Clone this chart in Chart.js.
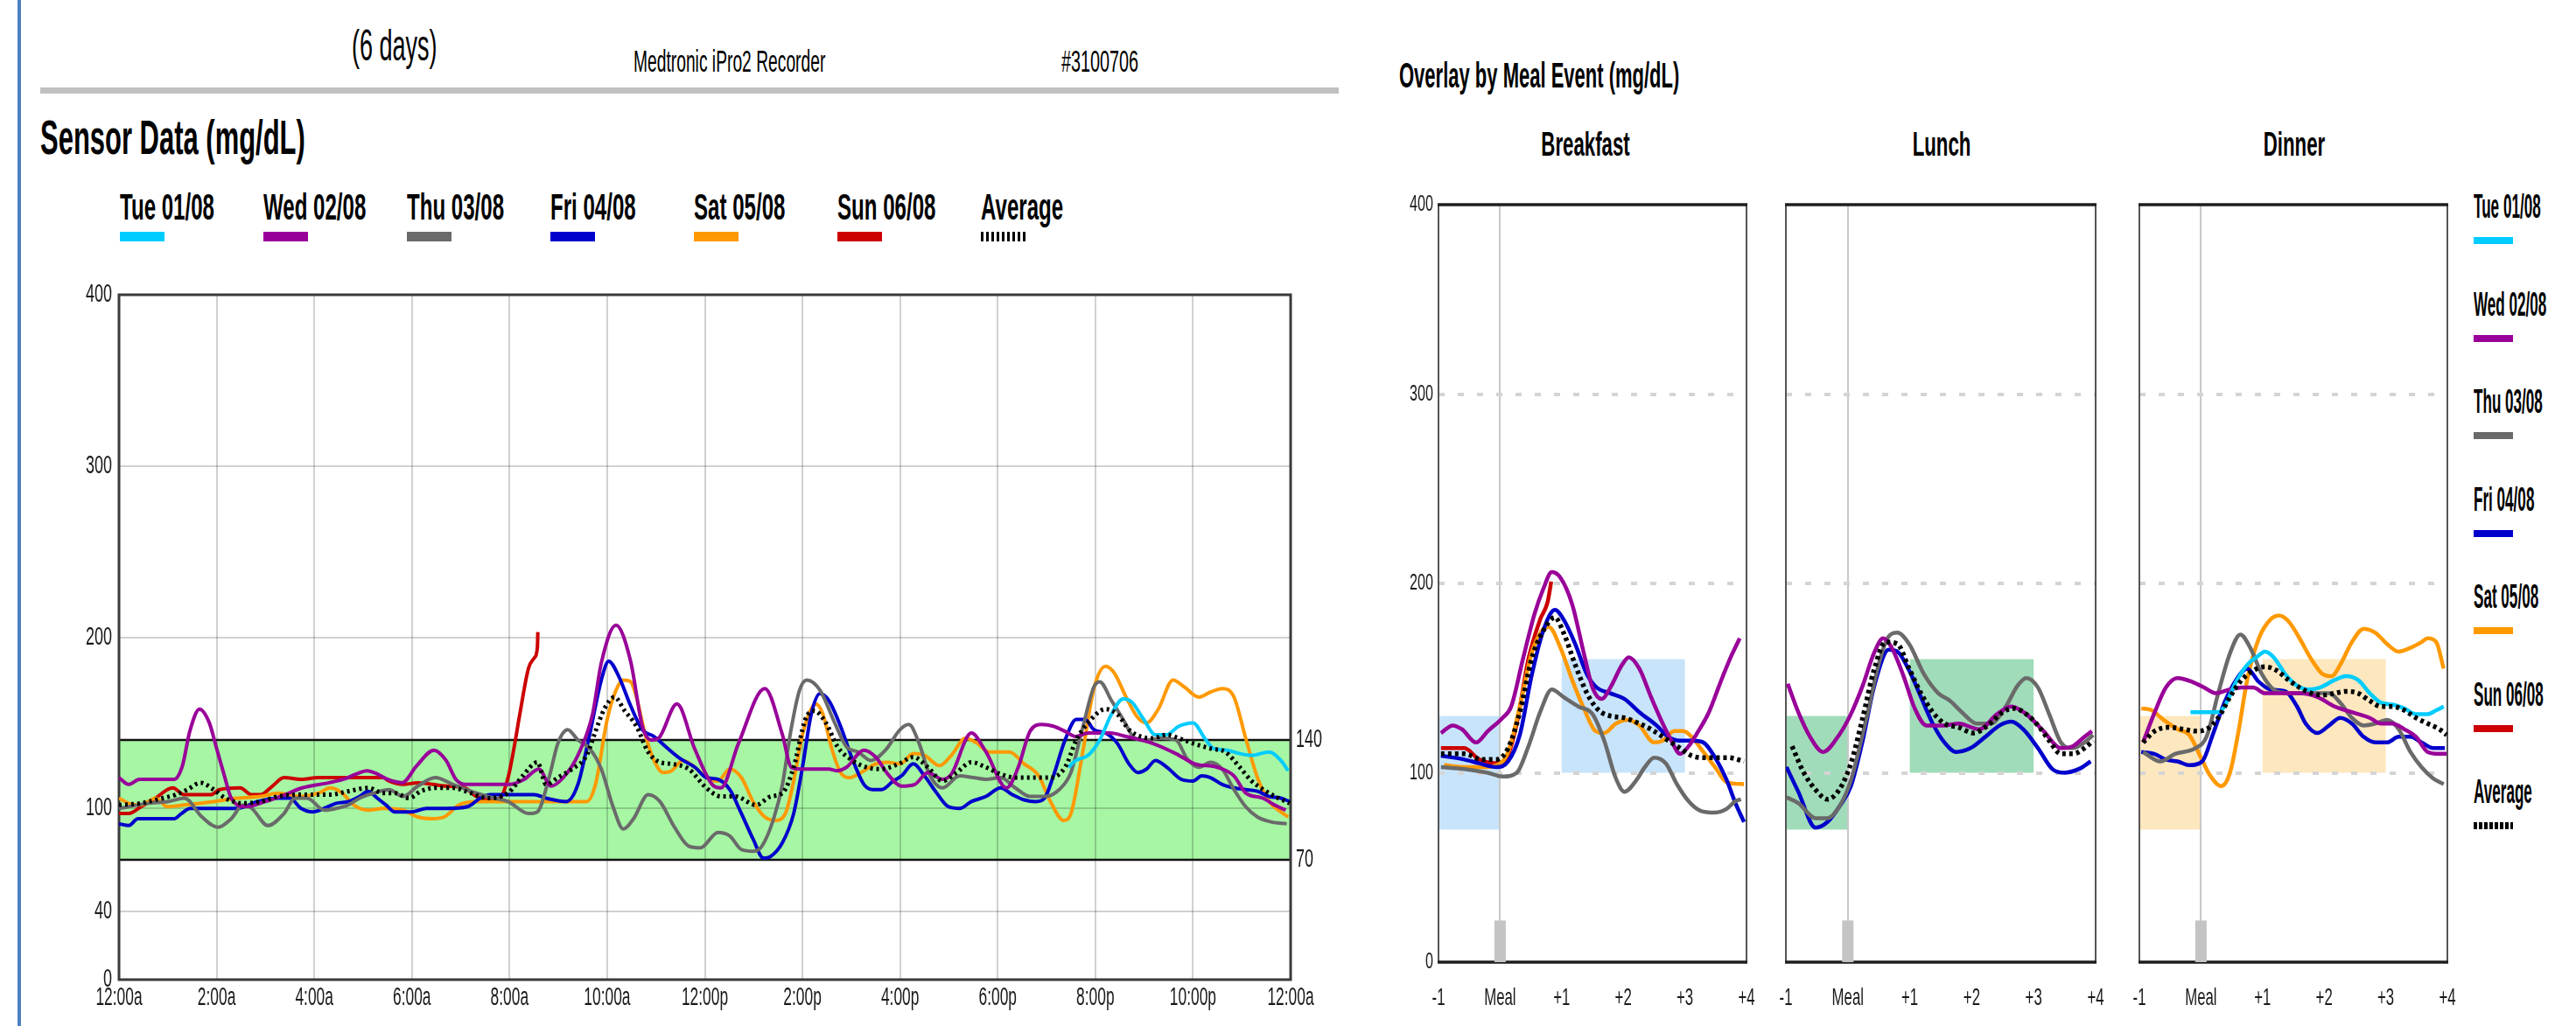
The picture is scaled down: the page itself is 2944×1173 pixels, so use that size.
<!DOCTYPE html>
<html>
<head>
<meta charset="utf-8">
<script src="https://cdn.jsdelivr.net/npm/chart.js@4.4.0/dist/chart.umd.min.js"></script>
<style>
  html, body { margin: 0; padding: 0; background: #fff; }
  body { width: 2944px; height: 1173px; position: relative; overflow: hidden;
         font-family: "Liberation Sans", Arial, sans-serif; color: #000; }
  .sq { position: absolute; white-space: nowrap; line-height: 1; transform-origin: left top; }
  .swatch { position: absolute; }
  canvas { position: absolute; }
</style>
</head>
<body>
<div style="position:absolute;left:20px;top:0;width:4px;height:1173px;background:#4f7fc0"></div>
<div class="sq" style="left:402px;top:27px;font-size:50px;transform:scaleX(0.54)">(6 days)</div>
<div class="sq" style="left:724px;top:52px;font-size:35px;transform:scaleX(0.55)">Medtronic iPro2 Recorder</div>
<div class="sq" style="left:1213px;top:52px;font-size:35px;transform:scaleX(0.565)">#3100706</div>
<div style="position:absolute;left:46px;top:100px;width:1484px;height:7px;background:#c0c0c0"></div>
<div class="sq" style="left:46px;top:129px;font-size:56px;font-weight:bold;transform:scaleX(0.553)">Sensor Data (mg/dL)</div>
<div class="sq" style="left:1599px;top:66px;font-size:40px;font-weight:bold;transform:scaleX(0.55)">Overlay by Meal Event (mg/dL)</div>
<div id="legendTop"></div>
<div id="legendSide"></div>
<div id="mealTitles"></div>

<canvas id="sensorChart" width="1490" height="856" style="left:56px;top:317px;width:1490px;height:856px"></canvas>
<canvas id="breakfastChart" width="416" height="973" style="left:1590px;top:200px;width:416px;height:973px"></canvas>
<canvas id="lunchChart" width="394" height="973" style="left:2011px;top:200px;width:394px;height:973px"></canvas>
<canvas id="dinnerChart" width="392" height="973" style="left:2415px;top:200px;width:392px;height:973px"></canvas>

<script>
// ---- legend / series meta ----
const dayLabels = ["Tue 01/08", "Wed 02/08", "Thu 03/08", "Fri 04/08", "Sat 05/08", "Sun 06/08", "Average"];
const dayColors = ["#00ccff", "#990099", "#6a6a6a", "#0000cc", "#ff9900", "#cc0000", "#000000"];

// ---- sensor data: [hour of day, mg/dL] ----
const tueDay = [[19.45,124],[19.6,128],[19.85,131],[20.09,140],[20.33,155],[20.57,164],[20.75,162],[20.99,152],[21.23,143],[21.45,143],[21.71,148],[22.0,150],[22.24,141],[22.42,135],[22.7,134],[22.96,132],[23.2,131],[23.56,133],[23.8,128],[23.95,122]];
const wedDay = [[0,118],[0.2,114],[0.42,117],[1.13,117],[1.3,125],[1.45,145],[1.65,158],[1.85,150],[2.0,135],[2.15,120],[2.3,106],[2.6,101],[3.0,104],[3.4,108],[3.75,112],[4.3,115],[4.6,117],[4.85,120],[5.08,122],[5.3,120],[5.5,117],[5.8,115],[6.1,125],[6.45,134],[6.7,128],[6.9,117],[7.1,114],[7.5,114],[8.0,114],[8.3,117],[8.6,123],[8.85,113],[9.1,118],[9.4,131],[9.7,155],[9.88,185],[10.18,207],[10.48,186],[10.72,148],[10.9,140],[11.05,141],[11.43,161],[11.79,135],[12.15,114],[12.33,112],[12.69,138],[13.23,170],[13.59,143],[13.77,124],[13.95,123],[14.54,123],[14.7,122],[14.9,124],[15.26,134],[15.5,130],[15.75,120],[16.03,113],[16.3,114],[16.57,121],[16.87,117],[17.05,120],[17.46,144],[17.76,133],[18.18,112],[18.42,124],[18.66,145],[18.9,149],[19.14,148],[19.38,145],[19.6,142],[19.85,144],[20.3,144],[20.63,142],[21.17,138],[21.65,132],[22.04,126],[22.5,124],[22.84,119],[23.08,109],[23.43,106],[23.67,102],[23.9,99]];
const thuDay = [[0,100],[0.6,103],[1.0,104],[1.34,106],[1.7,95],[2.03,89],[2.3,94],[2.54,102],[2.72,100],[3.05,90],[3.38,97],[3.61,106],[3.85,106],[4.21,99],[4.45,100],[4.69,102],[4.93,106],[5.23,109],[5.53,111],[5.82,107],[6.12,113],[6.48,118],[6.84,114],[7.32,109],[7.68,106],[7.97,104],[8.39,97],[8.57,98],[8.81,118],[8.99,138],[9.19,146],[9.4,140],[9.64,135],[9.88,123],[10.12,101],[10.33,88],[10.54,94],[10.84,108],[11.08,104],[11.38,89],[11.67,78],[11.91,77],[12.27,86],[12.51,84],[12.75,76],[12.99,75],[13.17,78],[13.41,94],[13.59,114],[13.76,145],[13.94,169],[14.09,175],[14.36,169],[14.66,150],[14.9,136],[15.14,133],[15.4,128],[15.7,134],[16.0,146],[16.18,149],[16.39,138],[16.6,120],[16.87,112],[17.22,119],[17.5,118],[17.76,117],[18.06,118],[18.36,112],[18.66,107],[18.96,107],[19.26,111],[19.5,121],[19.73,146],[19.97,171],[20.09,174],[20.33,163],[20.57,152],[20.81,141],[21.05,140],[21.35,141],[21.65,140],[21.88,129],[22.12,124],[22.36,127],[22.6,123],[22.84,111],[23.08,101],[23.32,95],[23.62,92],[23.92,91]];
const friDay = [[0,91],[0.2,90],[0.39,94],[1.13,94],[1.28,97],[1.46,100],[2.42,100],[2.84,104],[3.26,106],[3.5,106],[3.73,100],[3.97,98],[4.2,100],[4.45,103],[4.7,104],[4.93,107],[5.1,110],[5.29,106],[5.47,102],[5.65,98],[6.0,98],[6.3,100],[6.72,100],[7.14,101],[7.4,106],[7.61,108],[8.5,108],[8.75,106],[9.16,104],[9.4,114],[9.64,143],[9.88,175],[10.03,186],[10.24,177],[10.48,160],[10.72,146],[10.96,142],[11.2,136],[11.5,129],[11.8,124],[12.03,118],[12.27,117],[12.51,111],[12.75,97],[12.99,82],[13.2,71],[13.35,72],[13.59,80],[13.82,97],[14.0,124],[14.18,155],[14.36,167],[14.54,163],[14.78,148],[15.02,129],[15.26,114],[15.44,111],[15.62,111],[15.86,116],[16.03,119],[16.27,126],[16.5,119],[16.75,109],[16.99,101],[17.22,100],[17.46,104],[17.76,107],[18.06,112],[18.3,108],[18.54,105],[18.78,104],[18.96,106],[19.14,119],[19.38,140],[19.61,152],[19.79,152],[19.97,146],[20.21,144],[20.45,138],[20.69,126],[20.87,121],[21.05,123],[21.23,128],[21.47,124],[21.76,117],[22.0,116],[22.18,119],[22.36,118],[22.6,114],[22.84,112],[23.08,111],[23.32,110],[23.56,107],[23.8,106],[23.98,104]];
const satDay = [[0,106],[0.2,103],[0.45,102],[0.75,106],[0.99,101],[1.34,102],[1.94,104],[2.42,106],[2.9,107],[3.26,109],[3.73,107],[4.09,109],[4.33,112],[4.57,109],[4.81,102],[5.11,99],[5.41,100],[5.82,99],[6.12,95],[6.42,94],[6.66,95],[6.96,102],[7.32,104],[8.0,104],[9.0,104],[9.58,104],[9.76,114],[10.0,152],[10.18,169],[10.33,175],[10.48,174],[10.6,165],[10.78,143],[10.96,128],[11.14,121],[11.32,122],[11.55,128],[11.8,124],[12.03,118],[12.27,116],[12.51,123],[12.75,118],[12.99,104],[13.23,95],[13.44,93],[13.65,97],[13.82,116],[14.0,143],[14.18,158],[14.27,161],[14.42,155],[14.6,135],[14.78,121],[14.96,118],[15.2,121],[15.5,126],[15.74,127],[16.0,126],[16.27,132],[16.5,131],[16.81,125],[17.05,131],[17.34,141],[17.58,138],[17.82,133],[18.24,133],[18.54,126],[18.84,119],[19.08,104],[19.35,93],[19.5,97],[19.73,131],[19.97,170],[20.21,183],[20.39,179],[20.63,165],[20.87,153],[21.05,150],[21.29,158],[21.59,175],[21.82,171],[22.12,165],[22.36,168],[22.6,170],[22.84,165],[23.08,141],[23.32,118],[23.56,104],[23.8,98],[23.95,95]];
const sunDay = [[0,97],[0.2,97],[0.45,101],[0.75,106],[0.99,111],[1.1,112],[1.34,108],[1.88,108],[2.06,111],[2.48,112],[2.72,108],[2.9,108],[3.14,113],[3.38,118],[3.73,117],[4.09,118],[4.93,118],[5.41,118],[5.53,116],[5.82,114],[6.12,115],[6.72,113],[7.08,112],[7.32,107],[7.56,105],[7.8,106],[7.97,118],[8.09,135],[8.21,155],[8.39,182],[8.51,188],[8.57,194],[8.58,203]];
const avgDay = [[0,102],[0.45,103],[0.75,105],[1.16,108],[1.4,111],[1.67,115],[1.94,111],[2.18,106],[2.54,103],[2.9,104],[3.26,107],[3.73,108],[4.33,108],[4.69,110],[5.11,112],[5.41,109],[5.65,109],[5.94,106],[6.18,110],[6.48,112],[6.84,112],[7.2,109],[7.56,106],[7.97,109],[8.27,119],[8.57,127],[8.75,114],[8.99,118],[9.28,123],[9.58,131],[9.76,145],[9.94,158],[10.15,165],[10.36,157],[10.6,148],[10.84,133],[11.08,127],[11.32,126],[11.67,123],[12.03,112],[12.33,107],[12.63,107],[13.05,102],[13.35,107],[13.59,109],[13.82,124],[14.06,152],[14.24,157],[14.48,150],[14.72,136],[15.02,128],[15.32,124],[15.62,123],[15.97,126],[16.27,130],[16.57,124],[16.87,116],[17.16,121],[17.46,127],[17.76,124],[18.06,120],[18.36,118],[18.78,118],[19.08,118],[19.38,124],[19.61,140],[19.85,150],[20.21,158],[20.45,155],[20.69,146],[20.93,142],[21.17,141],[21.47,143],[21.71,141],[22.0,138],[22.36,135],[22.66,133],[22.96,124],[23.2,116],[23.44,111],[23.68,107],[23.98,103]];

// ---- meal overlay data: [hours from meal, mg/dL] ----
const bfWed = [[-0.96,121],[-0.77,125],[-0.62,123],[-0.39,116],[-0.2,122],[0.04,129],[0.18,135],[0.37,160],[0.56,184],[0.7,197],[0.84,206],[0.98,203],[1.17,189],[1.36,163],[1.5,145],[1.65,139],[1.79,145],[1.98,157],[2.09,161],[2.26,155],[2.45,140],[2.64,126],[2.78,117],[2.92,110],[3.06,114],[3.2,121],[3.39,132],[3.58,148],[3.73,160],[3.89,171]];
const bfSun = [[-0.96,113],[-0.58,113],[-0.34,107],[-0.06,105],[0.11,108],[0.27,126],[0.46,160],[0.65,181],[0.77,190],[0.83,201]];
const bfFri = [[-0.96,109],[-0.58,107],[-0.34,105],[-0.06,103],[0.13,106],[0.32,120],[0.51,151],[0.7,175],[0.89,186],[1.03,181],[1.22,168],[1.41,152],[1.57,145],[1.79,142],[2.02,139],[2.26,132],[2.54,125],[2.73,119],[2.92,117],[3.11,117],[3.3,116],[3.49,108],[3.68,96],[3.82,84],[3.96,74]];
const bfSat = [[-0.91,104],[-0.58,103],[-0.29,103],[-0.06,104],[0.13,111],[0.32,135],[0.51,163],[0.68,175],[0.79,177],[0.98,166],[1.17,149],[1.36,134],[1.55,122],[1.69,121],[1.88,126],[2.07,128],[2.26,125],[2.5,116],[2.64,117],[2.83,122],[2.97,122],[3.11,119],[3.3,111],[3.49,103],[3.68,95],[3.96,94]];
const bfThu = [[-0.96,103],[-0.58,102],[-0.2,100],[0.04,98],[0.27,100],[0.46,114],[0.65,132],[0.84,144],[1.03,140],[1.27,135],[1.5,131],[1.69,117],[1.88,97],[2.02,90],[2.21,96],[2.35,103],[2.5,108],[2.69,105],[2.87,94],[3.06,85],[3.25,80],[3.49,79],[3.68,81],[3.82,85],[3.91,86]];
const bfAvg = [[-0.96,110],[-0.58,110],[-0.29,107],[-0.06,107],[0.13,113],[0.32,132],[0.51,160],[0.7,175],[0.89,182],[1.03,174],[1.22,157],[1.41,142],[1.6,133],[1.79,130],[2.02,129],[2.26,126],[2.5,122],[2.73,117],[2.92,113],[3.11,109],[3.3,108],[3.7,108],[3.96,106]];

const lnWed = [[-0.97,147],[-0.8,132],[-0.61,119],[-0.4,111],[-0.14,120],[0.05,131],[0.24,146],[0.42,163],[0.57,171],[0.71,166],[0.9,151],[1.08,134],[1.27,125],[1.56,125],[1.79,126],[2.12,123],[2.41,131],[2.64,135],[2.88,131],[3.16,122],[3.44,113],[3.63,114],[3.82,119],[3.94,122]];
const lnFri = [[-0.99,103],[-0.8,90],[-0.52,71],[-0.33,74],[-0.14,82],[0.05,93],[0.24,117],[0.42,145],[0.66,165],[0.8,164],[0.99,154],[1.18,140],[1.37,126],[1.56,116],[1.75,111],[1.98,113],[2.22,119],[2.45,125],[2.64,127],[2.83,123],[3.07,113],[3.3,102],[3.49,100],[3.73,102],[3.92,106]];
const lnThu = [[-0.99,87],[-0.8,84],[-0.52,76],[-0.33,76],[-0.14,82],[0.05,96],[0.28,126],[0.52,160],[0.66,172],[0.8,174],[0.99,168],[1.23,152],[1.46,142],[1.65,138],[1.84,132],[2.08,126],[2.31,126],[2.55,135],[2.74,146],[2.88,150],[3.07,145],[3.25,131],[3.44,116],[3.63,113],[3.82,116],[3.96,120]];
const lnAvg = [[-0.9,114],[-0.71,100],[-0.52,91],[-0.33,86],[-0.14,91],[0.05,105],[0.24,129],[0.42,154],[0.61,169],[0.8,168],[0.99,155],[1.18,142],[1.37,132],[1.56,126],[1.79,124],[2.03,121],[2.26,125],[2.5,132],[2.69,134],[2.88,131],[3.07,125],[3.25,117],[3.44,110],[3.63,110],[3.82,113],[3.96,117]];

const dnTue = [[-0.17,132],[0.28,132],[0.38,135],[0.57,148],[0.75,157],[0.9,161],[1.04,164],[1.18,161],[1.37,152],[1.56,146],[1.75,144],[1.93,145],[2.17,149],[2.36,151],[2.55,149],[2.74,142],[2.92,137],[3.11,136],[3.3,134],[3.49,131],[3.68,131],[3.82,133],[3.94,135]];
const dnWed = [[-0.94,116],[-0.75,132],[-0.57,145],[-0.38,150],[-0.14,148],[0.05,145],[0.24,142],[0.47,144],[0.66,145],[0.85,145],[1.04,142],[1.32,142],[1.6,142],[1.89,140],[2.17,135],[2.45,132],[2.74,129],[2.92,126],[3.11,126],[3.3,123],[3.49,119],[3.68,111],[3.87,110],[3.99,110]];
const dnThu = [[-0.94,111],[-0.66,106],[-0.42,110],[-0.09,113],[0.09,119],[0.28,142],[0.47,163],[0.64,173],[0.8,166],[0.99,152],[1.23,143],[1.51,142],[1.79,142],[2.08,142],[2.26,137],[2.45,129],[2.64,125],[2.83,126],[3.02,128],[3.21,123],[3.4,111],[3.58,103],[3.77,97],[3.94,94]];
const dnFri = [[-0.97,111],[-0.76,110],[-0.57,107],[-0.38,106],[-0.19,104],[0.02,106],[0.19,120],[0.38,137],[0.57,149],[0.75,155],[0.94,148],[1.13,144],[1.37,143],[1.56,135],[1.7,126],[1.89,121],[2.08,125],[2.26,129],[2.45,126],[2.64,119],[2.83,116],[3.02,116],[3.21,119],[3.4,119],[3.58,116],[3.77,113],[3.96,113]];
const dnSat = [[-0.97,134],[-0.8,133],[-0.61,128],[-0.38,123],[-0.19,120],[0,108],[0.14,99],[0.33,93],[0.47,100],[0.61,122],[0.75,149],[0.94,171],[1.13,181],[1.27,183],[1.42,180],[1.6,171],[1.79,160],[1.98,152],[2.12,151],[2.26,157],[2.45,169],[2.64,176],[2.83,174],[3.02,168],[3.21,164],[3.4,166],[3.58,169],[3.68,171],[3.82,169],[3.94,155]];
const dnAvg = [[-0.94,116],[-0.75,122],[-0.52,124],[-0.28,123],[-0.09,122],[0.09,123],[0.28,129],[0.47,140],[0.66,149],[0.85,154],[1.04,156],[1.23,154],[1.42,149],[1.6,145],[1.79,142],[1.98,141],[2.17,142],[2.36,143],[2.55,142],[2.74,138],[2.92,135],[3.11,135],[3.3,133],[3.49,129],[3.68,126],[3.87,123],[3.99,120]];

// ---- axes / ranges ----
const sensorTicks = [0, 40, 100, 200, 300, 400];
const hourTicks = [0, 2, 4, 6, 8, 10, 12, 14, 16, 18, 20, 22, 24];
const hourLabels = ["12:00a", "2:00a", "4:00a", "6:00a", "8:00a", "10:00a", "12:00p", "2:00p", "4:00p", "6:00p", "8:00p", "10:00p", "12:00a"];
const targetRange = [70, 140];
const mealTicks = [-1, 0, 1, 2, 3, 4];
const mealTickLabels = ["-1", "Meal", "+1", "+2", "+3", "+4"];
const mealYTicks = [0, 100, 200, 300, 400];
const preMealHours = [-1, 0];
const preMealRange = [70, 130];
const postMealHours = [1, 3];
const postMealRange = [100, 160];
const mealMarker = [0, 22];
const mealNames = ["Breakfast", "Lunch", "Dinner"];
const mealBoxColors = ["#c8e4fa", "#a0dcb9", "#fde7bf"];

const toPoints = (pairs) => pairs.map(([x, y]) => ({ x, y }));
const FONT = '"Liberation Sans", Arial, sans-serif';

// ---- html legends ----
const legendTop = document.getElementById("legendTop");
dayLabels.forEach((label, i) => {
    const left = 137 + i * 164;
    const swatch = i === 6
        ? "background:repeating-linear-gradient(90deg,#000 0 3px,transparent 3px 6px)"
        : "background:" + dayColors[i];
    legendTop.insertAdjacentHTML("beforeend",
        `<div class="sq" style="left:${left}px;top:215px;font-size:43px;font-weight:bold;transform:scaleX(0.56)">${label}</div>` +
        `<div class="swatch" style="left:${left}px;top:265px;width:51px;height:11px;${swatch}"></div>`);
});
const legendSide = document.getElementById("legendSide");
dayLabels.forEach((label, i) => {
    const top = 217 + i * 111.5;
    const swatch = i === 6
        ? "background:repeating-linear-gradient(90deg,#000 0 4px,transparent 4px 6px)"
        : "background:" + dayColors[i];
    legendSide.insertAdjacentHTML("beforeend",
        `<div class="sq" style="left:2827px;top:${top}px;font-size:38px;font-weight:bold;transform:scaleX(0.45)">${label}</div>` +
        `<div class="swatch" style="left:2827px;top:${top + 54}px;width:45px;height:8px;${swatch}"></div>`);
});
const mealTitles = document.getElementById("mealTitles");
[1812, 2219, 2622].forEach((cx, i) => {
    mealTitles.insertAdjacentHTML("beforeend",
        `<div class="sq" style="left:${cx}px;top:145px;font-size:39px;font-weight:bold;transform:scaleX(0.57) translateX(-50%)">${mealNames[i]}</div>`);
});

// Draws tick labels condensed horizontally, at positions from the scales.
const squishLabels = {
    id: "squishLabels",
    afterDraw(chart, args, opts) {
        const { ctx, chartArea } = chart;
        (opts.axes || []).forEach((ax) => {
            const scale = chart.scales[ax.id];
            ctx.save();
            ctx.font = ax.font;
            ctx.fillStyle = "#1a1a1a";
            ctx.textBaseline = "middle";
            ax.values.forEach((v, i) => {
                const label = ax.labels ? ax.labels[i] : String(v);
                let x, y;
                if (ax.side === "bottom") {
                    x = scale.getPixelForValue(v);
                    y = chartArea.bottom + ax.offset;
                    ctx.textAlign = "center";
                } else if (ax.side === "left") {
                    x = chartArea.left - ax.offset;
                    y = scale.getPixelForValue(v);
                    ctx.textAlign = "right";
                } else {
                    x = chartArea.right + ax.offset;
                    y = scale.getPixelForValue(v);
                    ctx.textAlign = "left";
                }
                ctx.save();
                ctx.translate(x, y);
                ctx.scale(ax.sx, 1);
                ctx.fillText(label, 0, 0);
                ctx.restore();
            });
            ctx.restore();
        });
    },
};

// Green target band with black edges, plus plot frame.
const targetBand = {
    id: "targetBand",
    beforeDraw(chart) {
        const { ctx, chartArea: a, scales } = chart;
        const yHi = scales.y.getPixelForValue(targetRange[1]);
        const yLo = scales.y.getPixelForValue(targetRange[0]);
        ctx.save();
        ctx.fillStyle = "rgb(166,246,164)";
        ctx.fillRect(a.left, yHi, a.right - a.left, yLo - yHi);
        ctx.restore();
    },
    beforeDatasetsDraw(chart) {
        const { ctx, chartArea: a, scales } = chart;
        ctx.save();
        ctx.strokeStyle = "#111";
        ctx.lineWidth = 2.5;
        targetRange.forEach((v) => {
            const y = scales.y.getPixelForValue(v);
            ctx.beginPath();
            ctx.moveTo(a.left, y);
            ctx.lineTo(a.right, y);
            ctx.stroke();
        });
        ctx.strokeStyle = "#3a3a3a";
        ctx.lineWidth = 3;
        ctx.strokeRect(a.left, a.top, a.right - a.left, a.bottom - a.top);
        ctx.restore();
    },
};

// Pre/post meal boxes and frame.
const mealFrame = {
    id: "mealFrame",
    beforeDraw(chart, args, opts) {
        const { ctx, scales } = chart;
        const box = (hours, range) => {
            const x0 = scales.x.getPixelForValue(hours[0]);
            const x1 = scales.x.getPixelForValue(hours[1]);
            const y0 = scales.y.getPixelForValue(range[1]);
            const y1 = scales.y.getPixelForValue(range[0]);
            ctx.fillRect(x0, y0, x1 - x0, y1 - y0);
        };
        ctx.save();
        ctx.fillStyle = opts.color;
        box(preMealHours, preMealRange);
        box(postMealHours, postMealRange);
        ctx.restore();
    },
    beforeDatasetsDraw(chart) {
        const { ctx, chartArea: a } = chart;
        ctx.save();
        ctx.strokeStyle = "#555";
        ctx.lineWidth = 2;
        [a.left, a.right].forEach((x) => {
            ctx.beginPath();
            ctx.moveTo(x, a.top);
            ctx.lineTo(x, a.bottom);
            ctx.stroke();
        });
        ctx.strokeStyle = "#1e1e1e";
        ctx.lineWidth = 3.5;
        [a.top, a.bottom].forEach((y) => {
            ctx.beginPath();
            ctx.moveTo(a.left - 1, y);
            ctx.lineTo(a.right + 1, y);
            ctx.stroke();
        });
        ctx.restore();
    },
};

function seriesSet(list, width, avgWidth, dash) {
    return list.map(([pairs, colorIndex]) => ({
        label: dayLabels[colorIndex],
        data: toPoints(pairs),
        borderColor: dayColors[colorIndex],
        borderWidth: colorIndex === 6 ? avgWidth : width,
        borderDash: colorIndex === 6 ? dash : [],
        pointRadius: 0,
        fill: false,
        cubicInterpolationMode: "monotone",
        order: colorIndex === 6 ? 0 : 1,
    }));
}

// ---- 24 hour sensor chart ----
new Chart(document.getElementById("sensorChart"), {
    type: "line",
    data: {
        datasets: seriesSet([
            [avgDay, 6], [tueDay, 0], [wedDay, 1], [thuDay, 2], [friDay, 3], [satDay, 4], [sunDay, 5],
        ], 4, 5, [3, 4]),
    },
    options: {
        responsive: false,
        animation: false,
        layout: { padding: { top: 20, left: 0, right: 0, bottom: 0 } },
        plugins: {
            legend: { display: false },
            tooltip: { enabled: false },
            squishLabels: {
                axes: [
                    { id: "y", side: "left", values: sensorTicks, offset: 8, sx: 0.62, font: "29px " + FONT },
                    { id: "x", side: "bottom", values: hourTicks, labels: hourLabels, offset: 21, sx: 0.6, font: "29px " + FONT },
                    { id: "yRight", side: "right", values: targetRange, offset: 6, sx: 0.62, font: "29px " + FONT },
                ],
            },
        },
        scales: {
            x: {
                type: "linear", min: 0, max: 24,
                afterBuildTicks: (s) => { s.ticks = hourTicks.map((v) => ({ value: v })); },
                afterFit: (s) => { s.height = 53; },
                ticks: { display: false },
                border: { display: false },
                grid: {
                    drawTicks: false, lineWidth: 2,
                    color: (c) => (c.tick && (c.tick.value === 0 || c.tick.value === 24)) ? "rgba(0,0,0,0)" : "rgba(0,0,0,0.18)",
                },
            },
            y: {
                min: 0, max: 400,
                afterBuildTicks: (s) => { s.ticks = sensorTicks.map((v) => ({ value: v })); },
                afterFit: (s) => { s.width = 80; },
                ticks: { display: false },
                border: { display: false },
                grid: {
                    drawTicks: false, lineWidth: 2,
                    color: (c) => (c.tick && (c.tick.value === 0 || c.tick.value === 400)) ? "rgba(0,0,0,0)" : "rgba(0,0,0,0.18)",
                },
            },
            yRight: {
                position: "right", min: 0, max: 400,
                afterBuildTicks: (s) => { s.ticks = targetRange.map((v) => ({ value: v })); },
                afterFit: (s) => { s.width = 71; },
                ticks: { display: false },
                border: { display: false },
                grid: { display: false },
            },
        },
    },
    plugins: [targetBand, squishLabels],
});

// ---- meal overlay charts ----
function mealChart(canvasId, series, boxColor, yWidth, showY) {
    const datasets = seriesSet(series, 4.5, 5.5, [4, 4]);
    datasets.push({
        label: "meal",
        data: toPoints([[0, mealMarker[0]], [0, mealMarker[1]]]),
        borderColor: "#c4c4c4",
        borderWidth: 13,
        borderCapStyle: "butt",
        pointRadius: 0,
        order: 5,
    });
    const axes = [
        { id: "x", side: "bottom", values: mealTicks, labels: mealTickLabels, offset: 41, sx: 0.6, font: "28px " + FONT },
    ];
    if (showY) axes.push({ id: "y", side: "left", values: mealYTicks, offset: 6, sx: 0.62, font: "26px " + FONT });
    return new Chart(document.getElementById(canvasId), {
        type: "line",
        data: { datasets },
        options: {
            responsive: false,
            animation: false,
            layout: { padding: { top: 34, left: 0, right: 10, bottom: 0 } },
            plugins: {
                legend: { display: false },
                tooltip: { enabled: false },
                mealFrame: { color: boxColor },
                squishLabels: { axes },
            },
            scales: {
                x: {
                    type: "linear", min: -1, max: 4,
                    afterBuildTicks: (s) => { s.ticks = mealTicks.map((v) => ({ value: v })); },
                    afterFit: (s) => { s.height = 73; },
                    ticks: { display: false },
                    border: { display: false },
                    grid: {
                        drawTicks: false, lineWidth: 2,
                        color: (c) => (c.tick && c.tick.value === 0) ? "#c8c8c8" : "rgba(0,0,0,0)",
                    },
                },
                y: {
                    min: 0, max: 400,
                    afterBuildTicks: (s) => { s.ticks = mealYTicks.map((v) => ({ value: v })); },
                    afterFit: (s) => { s.width = yWidth; },
                    ticks: { display: false },
                    border: { display: false, dash: [7, 15] },
                    grid: {
                        drawTicks: false, lineWidth: 4,
                        color: (c) => (c.tick && c.tick.value > 0 && c.tick.value < 400) ? "#d4d4d4" : "rgba(0,0,0,0)",
                    },
                },
            },
        },
        plugins: [mealFrame, squishLabels],
    });
}

mealChart("breakfastChart", [[bfAvg, 6], [bfWed, 1], [bfThu, 2], [bfFri, 3], [bfSat, 4], [bfSun, 5]], mealBoxColors[0], 54, true);
mealChart("lunchChart", [[lnAvg, 6], [lnWed, 1], [lnThu, 2], [lnFri, 3]], mealBoxColors[1], 30, false);
mealChart("dinnerChart", [[dnAvg, 6], [dnTue, 0], [dnWed, 1], [dnThu, 2], [dnFri, 3], [dnSat, 4]], mealBoxColors[2], 30, false);
</script>
</body>
</html>
